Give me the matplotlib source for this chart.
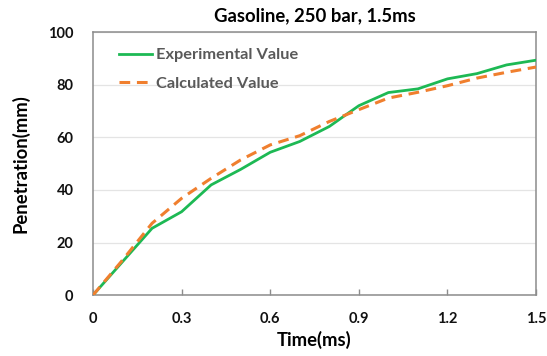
import matplotlib
matplotlib.use("Agg")
import matplotlib.pyplot as plt

time_ms = [0.0, 0.1, 0.2, 0.3, 0.4, 0.5, 0.6, 0.7, 0.8, 0.9, 1.0, 1.1, 1.2, 1.3, 1.4, 1.5]
experimental = [0.0, 12.7, 25.4, 31.7, 41.9, 47.8, 54.3, 58.4, 64.1, 72.0, 77.0, 78.4, 82.2, 84.2, 87.5, 89.3]
calculated = [0.0, 13.3, 27.3, 36.8, 44.4, 51.4, 57.1, 60.6, 66.0, 70.5, 74.9, 77.1, 79.6, 82.5, 84.7, 86.7]
x_ticks = [0, 0.3, 0.6, 0.9, 1.2, 1.5]
x_tick_labels = ["0", "0.3", "0.6", "0.9", "1.2", "1.5"]
y_ticks = [0, 20, 40, 60, 80, 100]

plt.rcParams["font.family"] = ["Lato", "DejaVu Sans"]
plt.rcParams["font.weight"] = "bold"

fig = plt.figure(figsize=(5.47, 3.56), dpi=100)
ax = fig.add_axes([0.170, 0.171, 0.810, 0.739])

ax.plot(time_ms, experimental, color="#1DB954", lw=2.0, label="Experimental Value",
        solid_joinstyle="round", zorder=3)
ax.plot(time_ms, calculated, color="#F07F2E", lw=2.2, ls=(0, (3.5, 2.2)),
        label="Calculated Value", zorder=4)

ax.set_xlim(0, 1.5)
ax.set_ylim(0, 100)
ax.set_xticks(x_ticks)
ax.set_xticklabels(x_tick_labels)
ax.set_yticks(y_ticks)
ax.grid(axis="y", color="#E4E4E4", lw=0.9)
ax.set_axisbelow(True)

for side in ["left", "bottom", "top", "right"]:
    ax.spines[side].set_color("#8C8C8C")
    ax.spines[side].set_linewidth(1.1)

ax.tick_params(axis="x", direction="in", length=4, width=1.0, color="#8C8C8C",
               labelsize=10.5, pad=12)
ax.tick_params(axis="y", length=0, labelsize=10.5, pad=14)
for lbl in ax.get_xticklabels() + ax.get_yticklabels():
    lbl.set_fontweight("bold")
    lbl.set_color("#111111")

ax.set_title("Gasoline, 250 bar, 1.5ms", fontsize=13.3, fontweight="bold", pad=8)
ax.set_xlabel("Time(ms)", fontsize=13.3, fontweight="bold", labelpad=4)
ax.set_ylabel("Penetration(mm)", fontsize=13.3, fontweight="bold", labelpad=13)

leg = ax.legend(loc="upper left", frameon=False, fontsize=11.8, handlelength=2.0,
                borderaxespad=0.4, labelspacing=0.85, handletextpad=0.25,
                bbox_to_anchor=(0.029, 0.99))
for t in leg.get_texts():
    t.set_color("#595959")
    t.set_fontweight("bold")

fig.savefig("out.png", dpi=100)
